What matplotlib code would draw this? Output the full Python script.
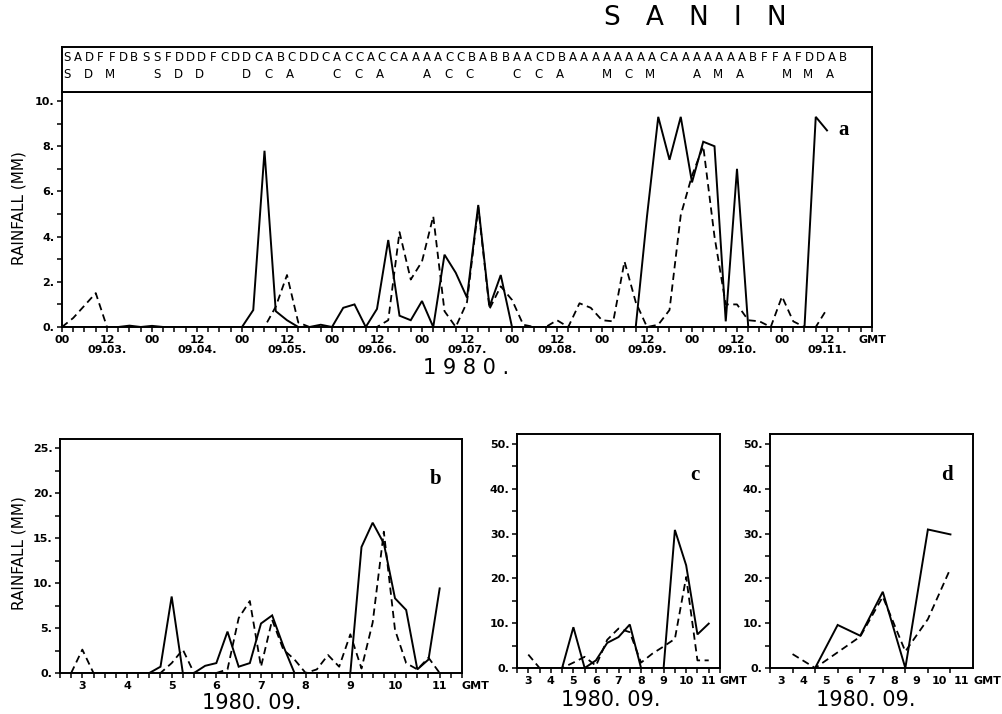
import numpy as np
import matplotlib
matplotlib.use("Agg")
import matplotlib.pyplot as plt

# ---- data (hours counted from 1980-09-03 00 GMT) ----
hours_a = np.arange(0, 205, 3)
solid_a = [0, 0, 0, 0, 0, 0, 0.06, 0, 0.05, 0,
           0, 0, 0, 0, 0, 0, 0, 0.75, 7.8, 0.7,
           0.3, 0, 0, 0.1, 0, 0.85, 1.0, 0, 0.8, 3.85,
           0.5, 0.3, 1.15, 0, 3.2, 2.4, 1.3, 5.4, 0.9, 2.3,
           0, 0, 0, 0, 0, 0, 0, 0, 0, 0,
           0, 0, 4.9, 9.3, 7.4, 9.3, 6.4, 8.2, 8.0, 0.25,
           7.0, 0, 0, 0, 0, 0, 0, 9.3, 8.7]
dashed_a = [0, 0.4, 0.95, 1.5, 0, 0, 0, 0, 0, 0,
            0, 0, 0, 0, 0, 0, 0, 0, 0, 0.9,
            2.3, 0.2, 0, 0, 0, 0, 0, 0, 0, 0.3,
            4.2, 2.1, 2.9, 4.9, 0.7, 0, 1.1, 5.3, 0.8, 1.8,
            1.2, 0.1, 0, 0, 0.3, 0, 1.05, 0.85, 0.3, 0.25,
            2.9, 1.1, 0, 0.1, 0.75, 4.95, 6.7, 8.0, 4.0, 1.0,
            1.0, 0.3, 0.25, 0, 1.35, 0.25, 0, 0, 0.8]

hours_b = np.arange(6, 205, 6)
solid_b = [0, 0, 0, 0, 0, 0, 0, 0, 0.7, 8.5,
           0, 0, 0.8, 1.1, 4.6, 0.7, 1.1, 5.5, 6.4, 3.0,
           0, 0, 0, 0, 0, 0, 14.0, 16.7, 14.4, 8.3,
           7.0, 0.4, 1.5, 9.4]
dashed_b = [0, 2.6, 0, 0, 0, 0, 0, 0, 0, 1.1,
            2.6, 0, 0, 0, 0.4, 6.1, 8.0, 0.7, 5.9, 2.6,
            1.5, 0, 0.4, 2.0, 0.7, 4.3, 0.5, 5.6, 15.7, 4.8,
            1.1, 0.4, 1.7, 0]

hours_c = np.arange(12, 205, 12)
solid_c = [0, 0, 0, 0, 9.1, 0, 1.7, 5.6, 6.9, 9.7, 0, 0, 0, 30.8, 22.9, 7.5, 9.9]
dashed_c = [3.0, 0, 0, 0, 1.2, 2.5, 0.5, 6.3, 8.8, 8.0, 1.2, 3.2, 4.8, 6.5, 20.3, 1.7, 1.7]

hours_d = np.arange(24, 193, 24)
solid_d = [np.nan, 0, 9.6, 7.2, 17.0, 0, 30.9, 29.8]
dashed_d = [3.1, 0, 3.5, 7.0, 15.9, 3.7, 10.9, 22.2]

weather_row1 = "SADFFDBSSFDDDFCDDCABCDDCACCACCAAAACCBABBAACDBAAAAAAAACAAAAAAABFFAFDDAB"
weather_row2 = ["SDM", "SDD", "DCA", "CCA", "ACC", "CCA", "MCM", "AMA", "MMA"]

days = ["09.03.", "09.04.", "09.05.", "09.06.", "09.07.", "09.08.", "09.09.", "09.10.", "09.11."]
day_nums = ["3", "4", "5", "6", "7", "8", "9", "10", "11"]

W, H = 1003, 714
fig = plt.figure(figsize=(W / 100, H / 100), dpi=100)


def box(l, t, r, b):
    return [l / W, 1 - b / H, (r - l) / W, (b - t) / H]


thin = "DejaVu Sans"
solid_kw = dict(color="black", lw=1.4, solid_joinstyle="miter")
dash_kw = dict(color="black", lw=1.3, linestyle=(0, (4, 2.5)))


def style(ax):
    for s in ax.spines.values():
        s.set_linewidth(1.4)
    ax.tick_params(which="both", direction="out", length=3.5, width=1.1,
                   labelsize=8, pad=2)
    for lab in ax.get_xticklabels() + ax.get_yticklabels():
        lab.set_fontweight("bold")


# ---- panel a ----
ax = fig.add_axes(box(62, 92, 872, 327))
ax.plot(hours_a, solid_a, **solid_kw)
ax.plot(hours_a, dashed_a, **dash_kw)
ax.set_xlim(0, 216)
ax.set_ylim(0, 10.4)
xt = list(range(0, 205, 12)) + [216]
xl = []
for h in range(0, 205, 12):
    xl.append("00" if h % 24 == 0 else "12\n" + days[h // 24])
xl.append("GMT")
ax.set_xticks(xt)
ax.set_xticklabels(xl, linespacing=1.0)
ax.set_xticks(np.arange(0, 217, 3), minor=True)
ax.set_yticks(range(0, 11, 2))
ax.set_yticklabels([f"{v}." for v in range(0, 11, 2)])
ax.set_yticks(range(0, 11), minor=True)
style(ax)
ax.text(0.965, 0.84, "a", transform=ax.transAxes, fontsize=15,
        family="Liberation Serif", weight="bold", ha="center", va="center")
fig.text(19 / W, 1 - 208 / H, "RAINFALL (MM)", rotation=90, ha="center",
         va="center", fontsize=11, family=thin)
fig.text(466 / W, 1 - 368 / H, "1 9 8 0 .", ha="center", va="center",
         fontsize=15, family=thin)

# weather type box above panel a
axl = fig.add_axes(box(62, 47, 872, 92))
axl.set_xlim(0, 216)
axl.set_ylim(0, 1)
axl.set_xticks([])
axl.set_yticks([])
for s in axl.spines.values():
    s.set_linewidth(1.4)
for i, ch in enumerate(weather_row1):
    axl.text(3 * i + 1.3, 0.76, ch, ha="center", va="center", fontsize=8.5,
             family=thin)
for d, grp in enumerate(weather_row2):
    for k, ch in enumerate(grp):
        axl.text(24 * d + 1.3 + 5.7 * k, 0.40, ch, ha="center", va="center",
                 fontsize=8.5, family=thin)

fig.text(695 / W, 1 - 18 / H, "S   A   N   I   N", ha="center", va="center",
         fontsize=19, family=thin)


def small_panel(rect, hrs, sol, das, ylim, ymaj, ymin, tick_step, label,
                lab_pos, mark_labels=True):
    ax = fig.add_axes(rect)
    ax.plot(hrs, sol, **solid_kw)
    ax.plot(hrs, das, **dash_kw)
    ax.set_xlim(0, 216)
    ax.set_ylim(0, ylim)
    pos = [12 + 24 * k for k in range(9)]
    ax.set_xticks(pos + [216])
    ax.set_xticklabels(day_nums + ["GMT"])
    ax.set_xticks(np.arange(0, 217, tick_step), minor=True)
    ax.set_yticks(ymaj)
    ax.set_yticklabels([f"{v}." for v in ymaj])
    ax.set_yticks(ymin, minor=True)
    style(ax)
    if not mark_labels:
        ax.tick_params(axis="x", which="major", length=0, pad=5.5)
    ax.get_xticklabels()[-1].set_ha("left")
    ax.text(lab_pos[0], lab_pos[1], label, transform=ax.transAxes,
            fontsize=15, family="Liberation Serif", weight="bold",
            ha="center", va="center")
    return ax


axb = small_panel(box(60, 439, 462, 673), hours_b, solid_b, dashed_b, 26,
                  range(0, 26, 5), np.arange(0, 26, 2.5), 6, "b", (0.935, 0.83))
fig.text(19 / W, 1 - 553 / H, "RAINFALL (MM)", rotation=90, ha="center",
         va="center", fontsize=11, family=thin)
fig.text(252 / W, 1 - 703 / H, "1980. 09.", ha="center", va="center",
         fontsize=15, family=thin)

axc = small_panel(box(517, 434, 720, 668), hours_c, solid_c, dashed_c, 52.2,
                  range(0, 51, 10), range(0, 51, 5), 12, "c", (0.877, 0.825))
fig.text(611 / W, 1 - 700 / H, "1980. 09.", ha="center", va="center",
         fontsize=15, family=thin)

axd = small_panel(box(770, 434, 973, 668), hours_d, solid_d, dashed_d, 52.2,
                  range(0, 51, 10), range(0, 51, 5), 24, "d", (0.872, 0.825),
                  mark_labels=False)
fig.text(866 / W, 1 - 700 / H, "1980. 09.", ha="center", va="center",
         fontsize=15, family=thin)

fig.savefig("out.png", dpi=100, facecolor="white")
